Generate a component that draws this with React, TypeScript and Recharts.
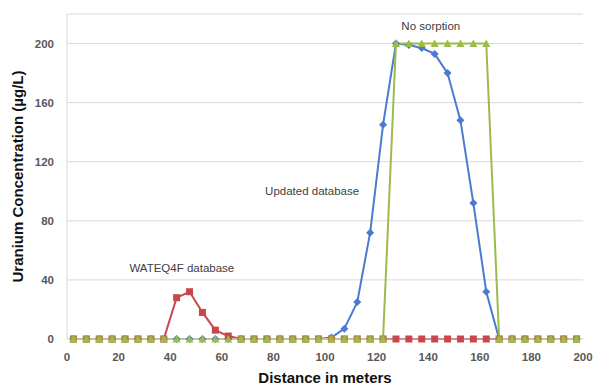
import React from 'react';
import { LineChart, Line, XAxis, YAxis, CartesianGrid, ReferenceDot, Label } from 'recharts';

const distance = [
  2.5, 7.5, 12.5, 17.5, 22.5, 27.5, 32.5, 37.5, 42.5, 47.5,
  52.5, 57.5, 62.5, 67.5, 72.5, 77.5, 82.5, 87.5, 92.5, 97.5,
  102.5, 107.5, 112.5, 117.5, 122.5, 127.5, 132.5, 137.5, 142.5, 147.5,
  152.5, 157.5, 162.5, 167.5, 172.5, 177.5, 182.5, 187.5, 192.5, 197.5,
];

const wateq4f = [
  0, 0, 0, 0, 0, 0, 0, 0, 28, 32,
  18, 6, 2, 0, 0, 0, 0, 0, 0, 0,
  0, 0, 0, 0, 0, 0, 0, 0, 0, 0,
  0, 0, 0, 0, 0, 0, 0, 0, 0, 0,
];

const updatedDb = [
  0, 0, 0, 0, 0, 0, 0, 0, 0, 0,
  0, 0, 0, 0, 0, 0, 0, 0, 0, 0,
  1, 7, 25, 72, 145, 200, 199, 197, 193, 180,
  148, 92, 32, 0, 0, 0, 0, 0, 0, 0,
];

const noSorption = [
  0, 0, 0, 0, 0, 0, 0, 0, 0, 0,
  0, 0, 0, 0, 0, 0, 0, 0, 0, 0,
  0, 0, 0, 0, 0, 200, 200, 200, 200, 200,
  200, 200, 200, 0, 0, 0, 0, 0, 0, 0,
];

const xTicks = [0, 20, 40, 60, 80, 100, 120, 140, 160, 180, 200];
const yTicks = [0, 40, 80, 120, 160, 200];

const BLUE = '#4a7bd0';
const RED = '#c8474a';
const GREEN = '#9bbb4a';
const FONT = '"Liberation Sans", Arial, sans-serif';

const data = distance.map((x, i) => ({
  x,
  wateq: wateq4f[i],
  updated: updatedDb[i],
  nosorp: noSorption[i],
}));

const squareDot = (props: any) => {
  const { cx, cy, index } = props;
  return <rect key={`sq-${index}`} x={cx - 3.5} y={cy - 3.5} width={7} height={7} fill={RED} />;
};

const diamondDot = (props: any) => {
  const { cx, cy, index } = props;
  return (
    <path
      key={`dm-${index}`}
      d={`M${cx},${cy - 4} L${cx + 4},${cy} L${cx},${cy + 4} L${cx - 4},${cy} Z`}
      fill={BLUE}
    />
  );
};

// green triangle; where it sits on a red square the two blend to olive, as in the source
const triangleDot = (props: any) => {
  const { cx, cy, index, payload } = props;
  const overRed = payload && payload.wateq === payload.nosorp;
  return (
    <g key={`tr-${index}`}>
      {overRed && (
        <rect x={cx - 3.5} y={cy - 3.5} width={7} height={7} fill={GREEN} fillOpacity={0.55} />
      )}
      <path
        d={`M${cx},${cy - 4} L${cx + 4},${cy + 3.5} L${cx - 4},${cy + 3.5} Z`}
        fill={GREEN}
      />
    </g>
  );
};

const tickStyle = { fill: '#595959', fontSize: 11.5, fontWeight: 700, fontFamily: FONT };
const noteStyle = { fill: '#404040', fontSize: 11.5, fontFamily: FONT };

export default function App() {
  return (
    <div style={{ position: 'absolute', left: 0, top: 0, background: '#fff' }}>
      <LineChart
        width={594}
        height={386}
        data={data}
        margin={{ top: 14, right: 11, bottom: 2, left: 10 }}
        style={{ fontFamily: FONT }}
      >
        <CartesianGrid horizontal vertical={false} stroke="#d9d9d9" />
        <XAxis
          type="number"
          dataKey="x"
          domain={[0, 200]}
          ticks={xTicks}
          height={45}
          tickLine={false}
          tickMargin={8}
          axisLine={{ stroke: '#d9d9d9' }}
          tick={tickStyle}
        >
          <Label
            value="Distance in meters"
            position="insideBottom"
            offset={1}
            style={{ fill: '#111', fontSize: 15, fontWeight: 700, fontFamily: FONT }}
          />
        </XAxis>
        <YAxis
          type="number"
          domain={[0, 220]}
          ticks={yTicks}
          width={57}
          tickLine={false}
          tickMargin={7}
          axisLine={{ stroke: '#d9d9d9' }}
          tick={tickStyle}
        >
          <Label
            value="Uranium Concentration (µg/L)"
            angle={-90}
            position="insideLeft"
            offset={8}
            style={{ textAnchor: 'middle', fill: '#111', fontSize: 15, fontWeight: 700, fontFamily: FONT }}
          />
        </YAxis>
        <Line
          dataKey="updated"
          stroke={BLUE}
          strokeWidth={2}
          dot={diamondDot}
          isAnimationActive={false}
        />
        <Line
          dataKey="wateq"
          stroke={RED}
          strokeWidth={2}
          dot={squareDot}
          isAnimationActive={false}
        />
        <Line
          dataKey="nosorp"
          stroke={GREEN}
          strokeWidth={2}
          dot={triangleDot}
          isAnimationActive={false}
        />
        <ReferenceDot x={141} y={212} r={0} label={{ value: 'No sorption', position: 'center', style: noteStyle }} />
        <ReferenceDot x={95} y={100} r={0} label={{ value: 'Updated database', position: 'center', style: noteStyle }} />
        <ReferenceDot x={44.5} y={48} r={0} label={{ value: 'WATEQ4F database', position: 'center', style: noteStyle }} />
      </LineChart>
    </div>
  );
}
